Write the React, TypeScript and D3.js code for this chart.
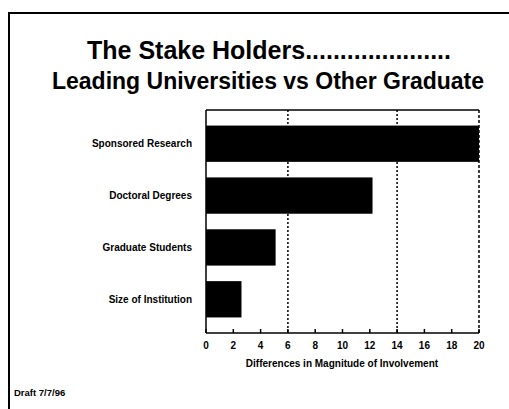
import React from "react";
import * as d3 from "d3";

const categories = ["Sponsored Research", "Doctoral Degrees", "Graduate Students", "Size of Institution"];
const values = [20, 12.2, 5.1, 2.6];
const xTicks = [0, 2, 4, 6, 8, 10, 12, 14, 16, 18, 20];
const gridValues = [6, 14];
const titleLines = ["The Stake Holders.....................", "Leading Universities vs Other Graduate"];
const xAxisTitle = "Differences in Magnitude of Involvement";
const footnote = "Draft 7/7/96";

export default function App() {
  const W = 509, H = 409;
  const x = d3.scaleLinear().domain([0, 20]).range([206, 479]);
  const y = d3.scaleBand<string>().domain(categories).range([110, 333]).paddingInner(0.3).paddingOuter(0.3);
  const font = "'Liberation Sans', Arial, Helvetica, sans-serif";
  const top = 110, bottom = 333;
  return (
    <svg width={W} height={H} style={{ position: "absolute", left: 0, top: 0, background: "#fff" }} fontFamily={font}>
      <rect x={0} y={0} width={W} height={H} fill="#fff" />
      {/* frame */}
      <line x1={8} y1={13} x2={W} y2={13} stroke="#000" strokeWidth={2} />
      <line x1={9} y1={12} x2={9} y2={H} stroke="#000" strokeWidth={2} />
      {/* title */}
      <text x={269} y={59} textAnchor="middle" fontSize={25} fontWeight="bold" fill="#000">{titleLines[0]}</text>
      <text x={268} y={89} textAnchor="middle" fontSize={23} fontWeight="bold" fill="#000">{titleLines[1]}</text>
      {/* gridlines */}
      {gridValues.map((g) => (
        <line key={g} x1={x(g)} x2={x(g)} y1={top} y2={bottom} stroke="#000" strokeWidth={1.5} strokeDasharray="2,2" />
      ))}
      <line x1={x(20)} x2={x(20)} y1={top} y2={bottom} stroke="#000" strokeWidth={1.5} strokeDasharray="3,2" />
      {/* plot frame */}
      <line x1={x(0)} x2={x(20)} y1={top} y2={top} stroke="#000" strokeWidth={1.5} />
      <line x1={x(0)} x2={x(0)} y1={top} y2={bottom} stroke="#000" strokeWidth={1.5} />
      <line x1={x(0)} x2={x(20)} y1={bottom} y2={bottom} stroke="#000" strokeWidth={1.5} />
      {/* bars */}
      {categories.map((c, i) => (
        <rect key={c} x={x(0)} y={y(c)!} width={x(values[i]) - x(0)} height={y.bandwidth()} fill="#000" />
      ))}
      {/* category labels */}
      {categories.map((c) => (
        <text key={c} x={192} y={y(c)! + y.bandwidth() / 2 + 3.5} textAnchor="end" fontSize={10} fontWeight="bold" fill="#000">{c}</text>
      ))}
      {/* x ticks */}
      {xTicks.map((t) => (
        <g key={t}>
          <line x1={x(t)} x2={x(t)} y1={bottom} y2={bottom - 4} stroke="#000" strokeWidth={1.5} />
          <text x={x(t)} y={349} textAnchor="middle" fontSize={10} fontWeight="bold" fill="#000">{t}</text>
        </g>
      ))}
      <text x={342} y={367} textAnchor="middle" fontSize={10} fontWeight="bold" fill="#000">{xAxisTitle}</text>
      <text x={14} y={396} fontSize={9.5} fontWeight="bold" fill="#000">{footnote}</text>
    </svg>
  );
}
